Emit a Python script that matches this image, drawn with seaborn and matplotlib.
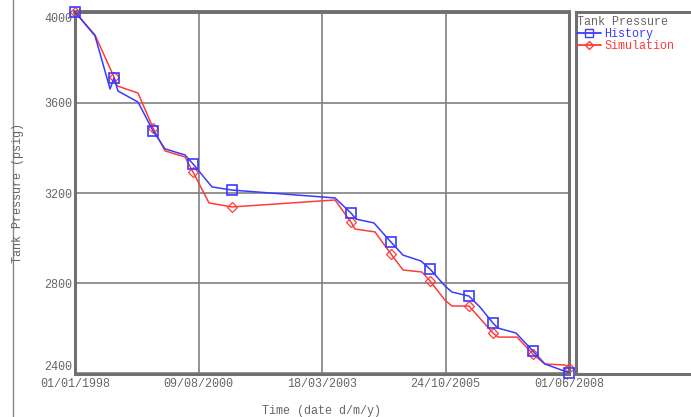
import matplotlib
matplotlib.use("Agg")
import matplotlib.pyplot as plt
from matplotlib.lines import Line2D
import seaborn as sns
import pandas as pd

sns.set_theme(style="white")
plt.rcParams['font.family'] = ['Liberation Mono', 'DejaVu Sans Mono']

history_dates = ["1998-01-01", "1998-06-04", "1998-09-28", "1998-10-28", "1998-11-28",
                 "1999-05-01", "1999-08-25", "1999-11-25", "2000-04-27", "2000-06-28",
                 "2000-11-21", "2001-04-24", "2003-06-26", "2003-10-27", "2003-12-05",
                 "2004-04-21", "2004-08-30", "2004-12-01", "2005-04-18", "2005-06-27",
                 "2005-10-20", "2005-12-13", "2006-04-23", "2006-07-17", "2006-10-25",
                 "2006-12-02", "2007-04-20", "2007-08-29", "2007-11-29", "2008-06-01"]
history_psig = [4004, 3898, 3662, 3711, 3653, 3604, 3476, 3396, 3369, 3329,
                3227, 3213, 3178, 3111, 3084, 3067, 2982, 2924, 2898, 2862,
                2787, 2760, 2742, 2693, 2622, 2600, 2578, 2498, 2440, 2402]
history_marks = [0, 3, 6, 9, 11, 13, 16, 19, 22, 24, 27, 29]

sim_dates = ["1998-01-01", "1998-06-04", "1998-10-28", "1998-11-20", "1999-05-01",
             "1999-08-25", "1999-11-25", "2000-04-27", "2000-06-28", "2000-10-29",
             "2001-04-24", "2003-06-26", "2003-10-27", "2003-11-27", "2004-04-29",
             "2004-08-30", "2004-12-01", "2005-04-26", "2005-06-27", "2005-10-20",
             "2005-12-13", "2006-04-23", "2006-10-25", "2006-12-02", "2007-04-28",
             "2007-08-29", "2007-11-29", "2008-05-01", "2008-06-01"]
sim_psig = [4004, 3902, 3716, 3676, 3644, 3489, 3387, 3360, 3293, 3156,
            3138, 3169, 3071, 3040, 3027, 2929, 2858, 2849, 2809, 2724,
            2698, 2698, 2578, 2560, 2560, 2484, 2440, 2436, 2422]
sim_marks = [0, 2, 5, 8, 10, 12, 15, 18, 21, 22, 25, 28]

x_ticks = ["1998-01-01", "2000-08-09", "2003-03-18", "2005-10-24", "2008-06-01"]
y_ticks = [2400, 2800, 3200, 3600, 4000]

hist_df = pd.DataFrame({"date": pd.to_datetime(history_dates), "psig": history_psig})
sim_df = pd.DataFrame({"date": pd.to_datetime(sim_dates), "psig": sim_psig})

BLUE = "#3a3aff"
RED = "#ff3b3b"
GREY = "#707070"
TXT = "#666666"

fig = plt.figure(figsize=(6.91, 4.17), dpi=100)
ax = fig.add_axes([75/691, 1-374/417, (569-75)/691, (374-12)/417])

sns.lineplot(data=sim_df, x="date", y="psig", ax=ax, color=RED, lw=1.1,
             marker="D", markersize=5, markevery=sim_marks, markerfacecolor="none",
             markeredgecolor=RED, markeredgewidth=0.9, zorder=3)
sns.lineplot(data=hist_df, x="date", y="psig", ax=ax, color=BLUE, lw=1.1,
             marker="s", markersize=7, markevery=history_marks, markerfacecolor="none",
             markeredgecolor=BLUE, markeredgewidth=1.2, zorder=4)

tick_dates = pd.to_datetime(x_ticks)
ax.set_xlim(tick_dates[0], tick_dates[-1])
ax.set_ylim(2396, 4004)
ax.set_xticks(tick_dates)
ax.set_xticklabels([d.strftime("%d/%m/%Y") for d in tick_dates])
ax.set_yticks(y_ticks)
ylabels = ax.set_yticklabels([str(v) for v in y_ticks])
ylabels[0].set_va("bottom")
ylabels[-1].set_va("top")
ax.tick_params(axis="both", length=0, labelsize=8.5, colors=TXT)
ax.tick_params(axis="x", pad=3)
ax.tick_params(axis="y", pad=2)
ax.grid(True, color="#808080", lw=1.2)
for s in ax.spines.values():
    s.set_visible(True)
    s.set_color(GREY)
    s.set_linewidth(2.2)
ax.spines["top"].set_linewidth(2.8)
for ln in ax.get_lines():
    ln.set_clip_on(False)
ax.set_xlabel("")
ax.set_ylabel("")

fig.text(321/691, 1-411/417, "Time (date d/m/y)", ha="center", va="center",
         fontsize=8.5, color=TXT)
fig.text(18/691, 1-193/417, "Tank Pressure (psig)", ha="center", va="center",
         rotation=90, fontsize=8.5, color=TXT)

# outer frame line on the left
fig.add_artist(Line2D([13/691, 13/691], [0, 1], transform=fig.transFigure,
                      color="#888888", lw=1.0))

# legend panel
lax = fig.add_axes([576/691, 1-374/417, 0.2, (374-12)/417])
lax.set_xticks([]); lax.set_yticks([])
for s in lax.spines.values():
    s.set_color(GREY)
    s.set_linewidth(2.2)
handles = [Line2D([], [], color=BLUE, lw=1.3, marker="s", markersize=6,
                  markerfacecolor="none", markeredgecolor=BLUE),
           Line2D([], [], color=RED, lw=1.3, marker="D", markersize=4.5,
                  markerfacecolor="none", markeredgecolor=RED)]
leg = lax.legend(handles, ["History", "Simulation"], title="Tank Pressure",
                 loc="upper left", bbox_to_anchor=(-0.065, 1.018), frameon=False,
                 fontsize=8.5, title_fontsize=8.5, handlelength=2.0,
                 handletextpad=0.3, labelspacing=0.02, borderpad=0.35,
                 alignment="left")
leg.get_title().set_color(TXT)
leg.get_texts()[0].set_color(BLUE)
leg.get_texts()[1].set_color(RED)

fig.savefig("out.png", dpi=100)
